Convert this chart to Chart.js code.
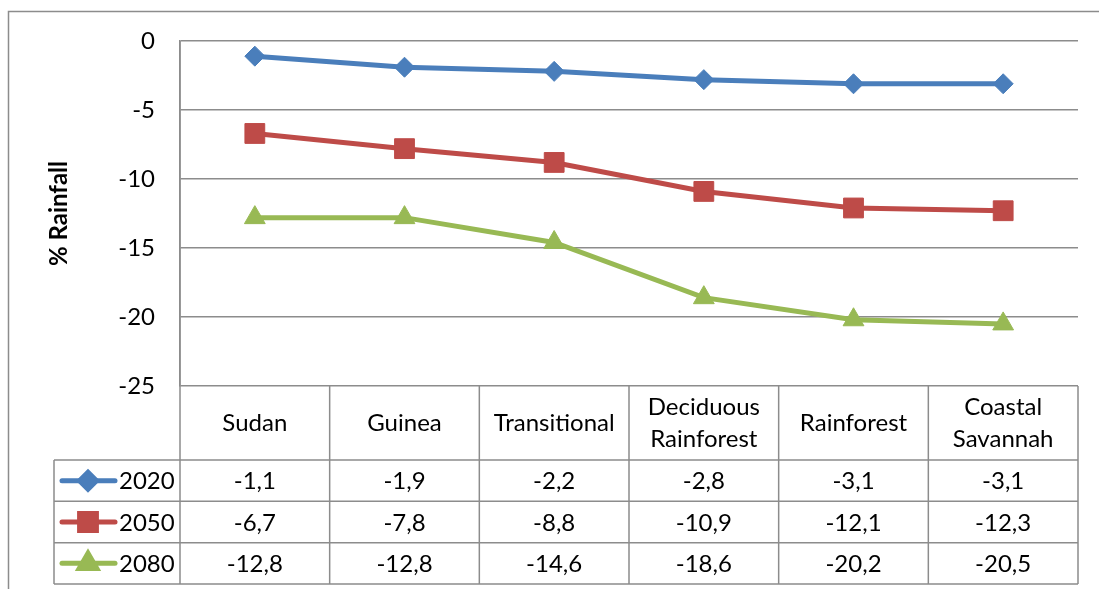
<!DOCTYPE html>
<html>
<head>
<meta charset="utf-8">
<script src="https://cdn.jsdelivr.net/npm/chart.js@4/dist/chart.umd.min.js"></script>
<style>
  html, body { margin: 0; padding: 0; background: #ffffff; }
  #wrap { position: relative; width: 1099px; height: 589px; }
</style>
</head>
<body>
<div id="wrap"><canvas id="c" width="1099" height="589"></canvas></div>
<script>
// Vegetation zones (categories) and projected % change in rainfall per horizon
const zones = [['Sudan'], ['Guinea'], ['Transitional'], ['Deciduous', 'Rainforest'], ['Rainforest'], ['Coastal', 'Savannah']];
const years = ['2020', '2050', '2080'];
const rain2020 = [-1.1, -1.9, -2.2, -2.8, -3.1, -3.1];
const rain2050 = [-6.7, -7.8, -8.8, -10.9, -12.1, -12.3];
const rain2080 = [-12.8, -12.8, -14.6, -18.6, -20.2, -20.5];
const yTicks = [0, -5, -10, -15, -20, -25];

const FONT = 'Lato, "Open Sans", "Liberation Sans", sans-serif';
const FS = 24;
const GRID = '#8c8c8c';

const fmt = v => v.toFixed(1).replace('.', ',');

// Data table drawn under the plot, with legend keys in its first column
const dataTablePlugin = {
  id: 'dataTable',
  afterDraw(chart) {
    const ctx = chart.ctx;
    const area = chart.chartArea;
    const xs = chart.scales.x;
    const n = chart.data.labels.length;
    const colW = (area.right - area.left) / n;
    const headTop = area.bottom;
    const headBot = 460;
    const rowH = (584 - headBot) / 3;
    const tableLeft = 54;
    const tableBottom = headBot + rowH * 3;

    ctx.save();
    // outer chart frame (top and left edges)
    ctx.strokeStyle = '#8c8c8c';
    ctx.lineWidth = 1.5;
    ctx.beginPath();
    ctx.moveTo(8.5, 589);
    ctx.lineTo(8.5, 11.5);
    ctx.lineTo(1099, 11.5);
    ctx.stroke();

    // table grid
    ctx.strokeStyle = GRID;
    ctx.lineWidth = 1.5;
    ctx.beginPath();
    for (let i = 0; i <= n; i++) {
      const x = area.left + i * colW;
      ctx.moveTo(x, headTop);
      ctx.lineTo(x, tableBottom);
    }
    ctx.moveTo(area.left, area.top);
    ctx.lineTo(area.left, tableBottom);
    ctx.moveTo(tableLeft, headBot);
    ctx.lineTo(tableLeft, tableBottom);
    for (let r = 0; r <= 3; r++) {
      const y = headBot + r * rowH;
      ctx.moveTo(tableLeft, y);
      ctx.lineTo(area.right, y);
    }
    ctx.stroke();

    ctx.fillStyle = '#000000';
    ctx.font = FS + 'px ' + FONT;
    ctx.textAlign = 'center';
    ctx.textBaseline = 'middle';
    // header labels
    chart.data.labels.forEach((lab, i) => {
      const cx = xs.getPixelForValue(i);
      const lines = Array.isArray(lab) ? lab : [lab];
      const lh = 32;
      const midY = (headTop + headBot) / 2;
      lines.forEach((t, k) => {
        ctx.fillText(t, cx, midY + (k - (lines.length - 1) / 2) * lh);
      });
    });

    // value rows
    chart.data.datasets.forEach((ds, r) => {
      const cy = headBot + rowH * (r + 0.5);
      ds.data.forEach((v, i) => {
        ctx.fillStyle = '#000000';
        ctx.textAlign = 'center';
        ctx.fillText(fmt(v), xs.getPixelForValue(i), cy + 1);
      });
      // legend key
      ctx.strokeStyle = ds.borderColor;
      ctx.lineWidth = ds.borderWidth;
      ctx.lineCap = 'round';
      ctx.beginPath();
      ctx.moveTo(62, cy);
      ctx.lineTo(115, cy);
      ctx.stroke();
      ctx.lineCap = 'butt';
      Chart.helpers.drawPoint(ctx, {
        pointStyle: ds.pointStyle,
        radius: ds.pointRadius * 0.85,
        rotation: 0,
        borderWidth: 1
      }, 88, cy);
      ctx.fillStyle = ds.backgroundColor;
      ctx.fill();
      ctx.fillStyle = '#000000';
      ctx.textAlign = 'left';
      ctx.fillText(ds.label, 119, cy + 1);
    });
    ctx.restore();
  }
};

const series = [rain2020, rain2050, rain2080];
const colors = ['#4a7ebb', '#be4b48', '#98b954'];
const styles = ['rectRot', 'rect', 'triangle'];
const radii = [10, 14, 12];

new Chart(document.getElementById('c'), {
  type: 'line',
  data: {
    labels: zones,
    datasets: years.map((y, i) => ({
      label: y,
      data: series[i],
      borderColor: colors[i],
      backgroundColor: colors[i],
      borderWidth: 5,
      pointStyle: styles[i],
      pointRadius: radii[i],
      pointHoverRadius: radii[i],
      pointBorderWidth: 1,
      pointBorderColor: colors[i],
      pointBackgroundColor: colors[i],
      tension: 0
    }))
  },
  options: {
    responsive: false,
    animation: false,
    events: [],
    layout: { padding: { top: 41, right: 21, bottom: 203, left: 0 } },
    plugins: { legend: { display: false }, tooltip: { enabled: false } },
    scales: {
      x: { type: 'category', offset: true, display: false },
      y: {
        min: -25,
        max: 0,
        afterBuildTicks: s => { s.ticks = yTicks.map(v => ({ value: v })); },
        afterFit: s => { s.width = 180; },
        ticks: { color: '#000000', padding: 25, font: { family: FONT, size: FS } },
        grid: { color: GRID, lineWidth: 1.5, drawTicks: false },
        border: { display: true, color: GRID, width: 1.5 },
        title: {
          display: true,
          text: '% Rainfall',
          color: '#000000',
          padding: { top: 45 },
          font: { family: FONT, size: FS, weight: 'bold' }
        }
      }
    }
  },
  plugins: [dataTablePlugin]
});
</script>
</body>
</html>
